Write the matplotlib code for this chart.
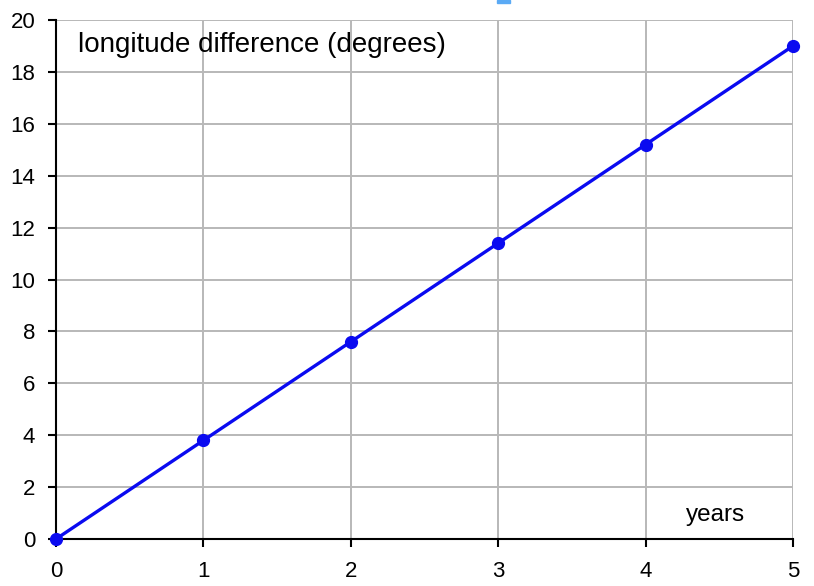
import matplotlib
matplotlib.use("Agg")
import matplotlib.pyplot as plt
from matplotlib.patches import Rectangle

# data
years = [0, 1, 2, 3, 4, 5]
lon_diff = [0, 3.8, 7.6, 11.4, 15.2, 19.0]
x_ticks = [0, 1, 2, 3, 4, 5]
y_ticks = [0, 2, 4, 6, 8, 10, 12, 14, 16, 18, 20]

plt.rcParams['font.family'] = ['Liberation Sans', 'DejaVu Sans']

fig = plt.figure(figsize=(8.14, 5.86), dpi=100)
ax = fig.add_axes([56/814, 47/586, 737/814, 519/586])

ax.plot(years, lon_diff, color='#0a0af0', lw=2.4, marker='o', ms=8.5, zorder=3, clip_on=False)

ax.set_xlim(0, 5)
ax.set_ylim(0, 20)
ax.set_xticks(x_ticks)
ax.set_yticks(y_ticks)
ax.grid(True, color='#b8b8b8', lw=1.4)
ax.set_axisbelow(True)

for s in ['top', 'right']:
    ax.spines[s].set_visible(False)
for s in ['left', 'bottom']:
    ax.spines[s].set_linewidth(1.5)
    ax.spines[s].set_color('black')
ax.tick_params(direction='out', length=6, width=1.5, labelsize=16)
ax.tick_params(axis='x', pad=10)
ax.tick_params(axis='y', pad=9)

ax.text(22/737, 0.938, 'longitude difference (degrees)', transform=ax.transAxes,
        fontsize=20, va='baseline', ha='left')
ax.text(630/737, 0.035, 'years', transform=ax.transAxes,
        fontsize=17.5, va='baseline', ha='left')

# small light blue mark at the top edge
fig.patches.append(Rectangle((497/814, 583/586), 13/814, 3/586, transform=fig.transFigure,
                             color='#5aaaf5', zorder=5))

fig.savefig('out.png', dpi=100)
